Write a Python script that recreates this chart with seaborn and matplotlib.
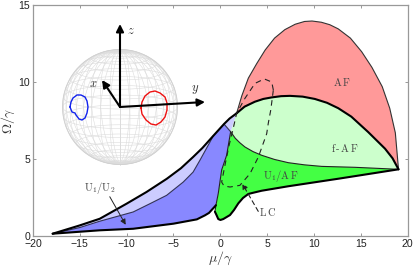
import numpy as np
import matplotlib
matplotlib.use('Agg')
import matplotlib.pyplot as plt
import seaborn as sns

# phase boundaries (mu/gamma, Omega/gamma)
af_x = [1.75, 2.3, 3.0, 3.9, 4.8, 5.8, 6.9, 8.0, 9.0, 9.8, 10.8, 11.7, 12.6, 13.9, 15.1, 16.2, 17.3, 18.1, 18.7, 19.04]
af_y = [7.97, 9.1, 10.25, 11.2, 12.08, 12.85, 13.4, 13.75, 13.93, 13.96, 13.88, 13.72, 13.45, 12.85, 11.97, 10.95, 9.7, 8.3, 6.7, 4.33]
fa_x = [1.75, 2.6, 3.7, 4.6, 5.5, 6.5, 7.45, 8.8, 10.1, 11.4, 12.6, 14.0, 15.8, 17.6, 18.4, 19.04]
fa_y = [7.97, 8.4, 8.72, 8.9, 9.0, 9.08, 9.1, 9.05, 8.9, 8.65, 8.3, 7.75, 6.75, 5.67, 5.05, 4.33]
mid_x = [1.11, 1.6, 2.1, 2.64, 3.5, 4.43, 5.8, 7.27, 9.0, 10.84, 14.4, 19.04]
mid_y = [6.77, 6.35, 6.05, 5.78, 5.48, 5.24, 4.97, 4.76, 4.62, 4.52, 4.46, 4.33]
low_x = [19.04, 12.62, 7.27, 4.43, 3.6, 3.0, 2.43, 1.93, 1.47, 1.04, 0.32, 0.02, -0.21, -0.4, -0.57]
low_y = [4.33, 3.72, 3.23, 2.94, 2.82, 2.73, 2.47, 2.12, 1.69, 1.36, 1.1, 1.04, 1.1, 1.36, 1.58]
edge_x = [-0.57, -0.46, -0.21, 0.15, 0.68, 1.11]
edge_y = [1.58, 2.0, 2.77, 4.29, 5.24, 6.77]
top_x = [-17.9, -15.0, -12.87, -10.0, -7.87, -5.7, -4.2, -2.9, -1.9, -0.75, 0.4, 1.0, 1.75]
top_y = [0.15, 0.69, 1.12, 2.1, 2.86, 3.72, 4.4, 5.13, 5.72, 6.5, 7.27, 7.63, 7.97]
blue_x = [-0.75, -1.1, -2.17, -2.9, -3.96, -5.73, -7.5, -9.3, -12.87, -15.0, -17.9]
blue_y = [6.5, 6.1, 4.92, 4.15, 3.5, 2.64, 2.1, 1.56, 0.96, 0.55, 0.15]
bot_x = [-17.9, -12.87, -9.3, -5.0, -2.5, -1.64, -1.2, -0.92, -0.6, -0.46]
bot_y = [0.15, 0.37, 0.47, 0.8, 1.08, 1.34, 1.5, 1.69, 1.9, 2.0]
tri_x = [0.4, 1.11]
tri_y = [7.27, 6.77]
lc_x = [5.67, 5.5, 4.7, 3.71, 2.64, 1.75, 1.39, 0.95, 0.57, 0.15, 0.4, 1.04, 2.1, 3.18, 4.07, 4.96, 5.13, 5.4, 5.67]
lc_y = [9.48, 10.0, 10.2, 9.91, 8.94, 7.97, 7.0, 5.9, 4.8, 3.5, 3.25, 3.18, 3.29, 4.05, 5.13, 6.64, 7.32, 8.2, 9.48]

# ticks
x_ticks = [-20, -15, -10, -5, 0, 5, 10, 15, 20]
y_ticks = [0, 5, 10, 15]

# loops on the sphere, in picture pixels
red_px = [141, 142, 145, 150, 155, 160, 165, 167, 167, 165, 161, 156, 151, 146, 142, 141]
red_py = [108, 102, 96, 92, 91, 93, 97, 103, 110, 117, 122, 125, 124, 120, 114, 108]
blue_px = [70, 71, 73, 77, 81, 85, 87, 88, 87, 85, 82, 79, 76, 75, 72, 70]
blue_py = [107, 102, 98, 95, 95, 97, 101, 107, 113, 118, 120, 119, 115, 113, 112, 107]

sns.set_theme(style='ticks')
plt.rcParams['font.family'] = ['Liberation Sans', 'DejaVu Sans']
plt.rcParams['mathtext.fontset'] = 'cm'

fig = plt.figure(figsize=(4.15, 2.67), dpi=100)
ax = fig.add_axes([33 / 415, 31 / 267, 374.5 / 415, 231 / 267])

# fills
ax.fill(af_x + fa_x[::-1], af_y + fa_y[::-1], color='#ff9999', lw=0)
ax.fill(fa_x + mid_x[::-1], fa_y + mid_y[::-1], color='#ccffcc', lw=0)
ax.fill(mid_x + low_x[1:] + edge_x, mid_y + low_y[1:] + edge_y, color='#44ff44', lw=0)
ax.fill(top_x + edge_x[::-1] + bot_x[::-1], top_y + edge_y[::-1] + bot_y[::-1], color='#ccccff', lw=0)
ax.fill(bot_x + edge_x[2:] + tri_x[::-1] + top_x[9:10] + blue_x[1:],
        bot_y + edge_y[2:] + tri_y[::-1] + top_y[9:10] + blue_y[1:], color='#8888ff', lw=0)

# boundaries
for xs, ys, w, c in [(af_x, af_y, 0.8, '#333333'), (mid_x, mid_y, 0.8, '#222222'),
                     (blue_x, blue_y, 0.8, '#333355'), (tri_x, tri_y, 0.8, '#333355'),
                     (edge_x, edge_y, 0.8, '#222222'), (fa_x, fa_y, 1.5, 'black'),
                     (low_x, low_y, 1.5, 'black'), (top_x, top_y, 1.5, 'black'),
                     (bot_x, bot_y, 1.5, 'black')]:
    sns.lineplot(x=xs, y=ys, sort=False, estimator=None, color=c, linewidth=w, ax=ax, zorder=3)
ax.plot(lc_x, lc_y, color='#222222', lw=0.8, dashes=(5, 4), zorder=4)

ax.set_xlim(-20, 20)
ax.set_ylim(0, 15)
ax.set_xticks(x_ticks)
ax.set_yticks(y_ticks)
ax.tick_params(direction='in', top=True, right=True, length=2.5, width=0.6, color='#888888',
               labelsize=7.6, labelcolor='#222222', pad=2)
for s in ax.spines.values():
    s.set_color('#999999')
    s.set_linewidth(0.9)
ax.set_xlabel(r'$\mu/\gamma$', fontsize=10, color='#333333', labelpad=1)
ax.set_ylabel(r'$\Omega/\gamma$', fontsize=10, color='#333333', labelpad=1)

# region labels
for t, xp, yp, fs in [(r'$\mathrm{A\,F}$', 12.95, 10.0, 7.5), (r'$\mathrm{f\,\text{-}\,A\,F}$', 13.3, 5.7, 7.5),
                      (r'$\mathrm{U_1/A\,F}$', 6.5, 3.9, 7.5), (r'$\mathrm{U_1/U_2}$', -12.9, 3.1, 7.5),
                      (r'$\mathrm{L\,C}$', 5.0, 1.55, 7.5)]:
    ax.text(xp, yp, t, fontsize=fs, color='#444444', ha='center', va='center', zorder=5)
ax.annotate('', xy=(-10.1, 0.73), xytext=(-11.8, 2.55), zorder=5,
            arrowprops=dict(arrowstyle='-|>', color='#222222', lw=0.7, mutation_scale=8, shrinkA=0, shrinkB=0))
ax.annotate('', xy=(2.35, 3.4), xytext=(4.06, 1.6), zorder=5,
            arrowprops=dict(arrowstyle='-|>', color='#222222', lw=0.8, ls=(0, (4, 3)), mutation_scale=8, shrinkA=0, shrinkB=0))

# sphere overlay in picture pixels
ov = fig.add_axes([0, 0, 1, 1])
ov.set_xlim(0, 415)
ov.set_ylim(267, 0)
ov.axis('off')
ov.patch.set_alpha(0)
cx, cy, r = 120, 107, 57.5
tilt = np.radians(12)
t = np.linspace(0, 2 * np.pi, 121)
for lat in np.radians(np.arange(-80, 90, 10)):
    px = np.cos(lat) * np.cos(t)
    py = np.cos(lat) * np.sin(t)
    pz = np.sin(lat) * np.ones_like(t)
    ov.plot(cx + r * px, cy - r * (pz * np.cos(tilt) + py * np.sin(tilt)), color='#dcdcdc', lw=0.4)
for lon in np.radians(np.arange(0, 180, 10)):
    px = np.cos(t) * np.cos(lon)
    py = np.cos(t) * np.sin(lon)
    pz = np.sin(t)
    ov.plot(cx + r * px, cy - r * (pz * np.cos(tilt) + py * np.sin(tilt)), color='#dcdcdc', lw=0.4)
ov.plot(cx + r * np.cos(t), cy + r * np.sin(t), color='#d0d0d0', lw=0.6)

ov.plot(red_px, red_py, color='#ee1111', lw=1.0)
ov.plot(blue_px, blue_py, color='#1122ee', lw=1.0)

for tip in [(120, 24), (102, 80), (205, 102)]:
    ov.annotate('', xy=tip, xytext=(cx, cy),
                arrowprops=dict(arrowstyle='-|>', color='black', lw=1.5, mutation_scale=11, shrinkA=0, shrinkB=0))
for t_, xp, yp in [('z', 131, 31), ('x', 93, 84), ('y', 195, 90)]:
    ov.text(xp, yp, '$%s$' % t_, fontsize=9, color='#333333', ha='center', va='center')

fig.savefig('out.png', dpi=100)
